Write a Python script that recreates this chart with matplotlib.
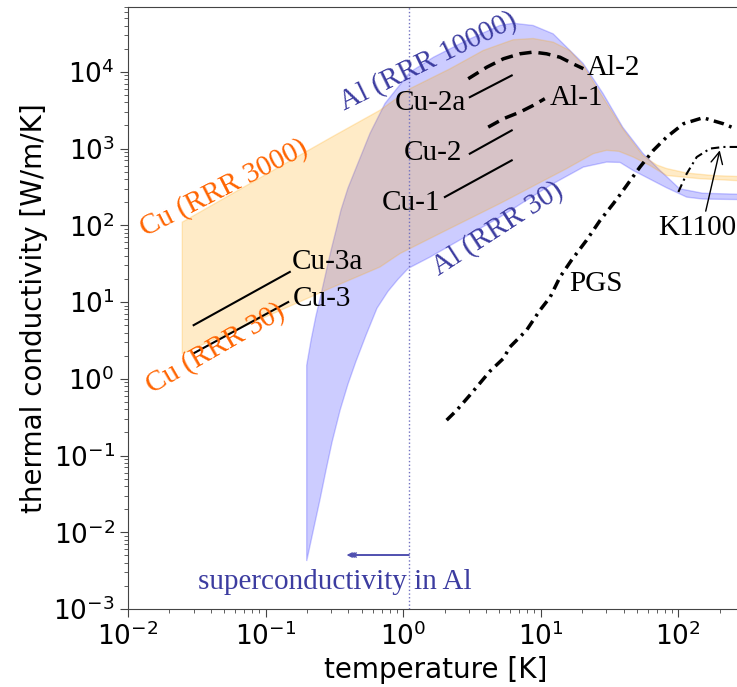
import matplotlib.pyplot as plt
import numpy as np

# Cu band: upper edge RRR 3000, lower edge RRR 30
cu_hi_T = [0.0248, 0.1, 0.3, 0.678, 1.12, 2.19, 3.82, 6.3, 8.8, 12.3, 16.2, 20.4,
           28, 40, 55, 62, 70, 82, 115, 180, 300]
cu_hi_k = [110, 457, 1400, 3160, 6030, 10960, 19000, 26200, 27200, 24400, 19000,
           12100, 4800, 1750, 820, 700, 610, 550, 480, 445, 430]
cu_lo_T = [0.0248, 0.1, 0.3, 0.678, 0.95, 2.0, 5.05, 10, 15.4, 24.1, 30.1, 37, 47,
           62, 82, 144, 300]
cu_lo_k = [2.13, 6.4, 15.3, 28.6, 42.9, 84, 192, 365, 547, 859, 949, 920, 776,
           603, 446, 405, 378]

# Al band: upper edge RRR 10000, lower edge RRR 30
al_hi_T = [0.199, 0.214, 0.232, 0.253, 0.275, 0.299, 0.325, 0.353, 0.397, 0.454,
           0.574, 0.738, 1.12, 1.66, 2.89, 5.05, 6.3, 8.8, 12.3, 20.3, 28.3, 39.5,
           55.2, 73.5, 102, 150, 300]
al_hi_k = [1.5, 3.18, 6.53, 12.6, 24.5, 47.2, 86, 158, 306, 557, 1578, 3880,
           9880, 15500, 25700, 40200, 43000, 40200, 31300, 12900, 5250, 1890,
           870, 520, 300, 262, 253]
al_lo_T = [0.199, 0.221, 0.248, 0.275, 0.304, 0.348, 0.397, 0.454, 0.537, 0.645,
           0.776, 0.917, 1.09, 1.57, 5.05, 11.7, 20.4, 30.1, 37.7, 46.8, 82, 115,
           150, 300]
al_lo_k = [0.00422, 0.0101, 0.0262, 0.0646, 0.149, 0.39, 0.851, 1.69, 3.70, 8.30,
           13.8, 19.8, 27.5, 38.6, 128, 332, 574, 667, 660, 520, 309, 233, 220,
           216]

# measured samples
al2_T = [2.97, 4.05, 5.35, 7.06, 8.83, 11.0, 13.8, 17.2, 20.4]
al2_k = [8130, 11500, 14800, 17200, 18100, 17200, 15500, 12700, 11000]
al1_T = [4.15, 5.35, 7.06, 8.83, 10.7]
al1_k = [1905, 2450, 2990, 3660, 4470]
cu3a_T, cu3a_k = [0.03, 0.15], [5.0, 24.7]
cu3_T, cu3_k = [0.03, 0.146], [2.15, 10.0]
cu2a_T, cu2a_k = [3.05, 6.15], [4680, 8970]
cu2_T, cu2_k = [3.05, 6.15], [858, 1726]
cu1_T, cu1_k = [2.01, 6.15], [234, 702]

pgs_T = [2.07, 2.45, 3.05, 4.28, 5.35, 5.97, 7.89, 9.86, 11.7, 13.8, 16.7, 21.5,
         26.9, 33.7, 37.7, 52.6, 65.8, 82.2, 109, 151, 212, 263]
pgs_k = [0.289, 0.389, 0.611, 1.26, 1.84, 2.60, 4.30, 7.82, 11.6, 21.2, 35.0,
         63.8, 115, 192, 251, 575, 948, 1413, 2109, 2523, 2109, 1800]
k1100_T = [100, 115, 136, 170, 212, 263, 300]
k1100_k = [272, 471, 776, 1000, 1050, 1050, 1050]

T_c = 1.1

ORANGE_TXT = '#ff6400'
BLUE_TXT = '#3c3ca0'
SERIF = 'Liberation Serif'
FS = 21

fig = plt.figure(figsize=(7.37, 6.87), dpi=100)
ax = fig.add_axes([128 / 737, 78 / 687, 616 / 737, 602 / 687])

ax.fill(np.r_[al_hi_T, al_lo_T[::-1]], np.r_[al_hi_k, al_lo_k[::-1]],
        facecolor='blue', edgecolor='blue', alpha=0.2, lw=1)
ax.fill(np.r_[cu_hi_T, cu_lo_T[::-1]], np.r_[cu_hi_k, cu_lo_k[::-1]],
        facecolor='#ffa500', edgecolor='#ffa500', alpha=0.22, lw=1)

ax.axvline(T_c, color='#7070c0', ls=':', lw=1)

for T, k in [(cu3a_T, cu3a_k), (cu3_T, cu3_k), (cu2a_T, cu2a_k),
             (cu2_T, cu2_k), (cu1_T, cu1_k)]:
    ax.plot(T, k, color='black', lw=1.5)
ax.plot(al2_T, al2_k, color='black', ls=(0, (3.5, 2)), lw=2.5)
ax.plot(al1_T, al1_k, color='black', ls=(0, (3.5, 2)), lw=2.5)
ax.plot(pgs_T, pgs_k, color='black', ls=(0, (3, 1.6, 0.8, 1.6)), lw=2.5)
ax.plot(k1100_T, k1100_k, color='black', ls=(0, (4, 2, 1, 2)), lw=1.5)

ax.set_xscale('log')
ax.set_yscale('log')
ax.set_xlim(1e-2, 300)
ax.set_ylim(1e-3, 7e4)
ax.set_yticks([10.0 ** e for e in range(-3, 5)])
ax.set_xticks([10.0 ** e for e in range(-2, 3)])
ax.tick_params(which='major', labelsize=19, length=6, color='#444444')
ax.tick_params(which='minor', length=3, color='#444444')
for s in ax.spines.values():
    s.set_color('#444444')
ax.set_xlabel('temperature [K]', fontsize=20)
ax.set_ylabel('thermal conductivity [W/m/K]', fontsize=20)

# band names
ax.text(0.05, 303, 'Cu (RRR 3000)', color=ORANGE_TXT, family=SERIF, fontsize=FS,
        rotation=27, ha='center', va='center')
ax.text(0.043, 2.5, 'Cu (RRR 30)', color=ORANGE_TXT, family=SERIF, fontsize=FS,
        rotation=30, ha='center', va='center')
ax.text(1.53, 13800, 'Al (RRR 10000)', color=BLUE_TXT, family=SERIF, fontsize=FS,
        rotation=26, ha='center', va='center')
ax.text(4.89, 91, 'Al (RRR 30)', color=BLUE_TXT, family=SERIF, fontsize=FS,
        rotation=33, ha='center', va='center')

# sample labels
lab = dict(family=SERIF, fontsize=FS, va='center')
ax.text(0.155, 33, 'Cu-3a', ha='left', **lab)
ax.text(0.158, 10.9, 'Cu-3', ha='left', **lab)
ax.text(2.89, 3880, 'Cu-2a', ha='right', **lab)
ax.text(2.66, 868, 'Cu-2', ha='right', **lab)
ax.text(1.875, 193, 'Cu-1', ha='right', **lab)
ax.text(21.5, 11060, 'Al-2', ha='left', **lab)
ax.text(11.7, 4510, 'Al-1', ha='left', **lab)
ax.text(16.0, 17.1, 'PGS', ha='left', **lab)
ax.annotate('K1100', xy=(200, 948), xytext=(71, 91.5), ha='left', va='center',
            family=SERIF, fontsize=FS,
            arrowprops=dict(arrowstyle='->', color='black', lw=1,
                            relpos=(0.6, 1.0), shrinkA=1, shrinkB=0))

# superconductivity arrow with a stacked head
for f in (1.0, 1.035, 1.07):
    ax.annotate('', xy=(0.388 * f, 0.00505), xytext=(T_c, 0.00505),
                arrowprops=dict(arrowstyle='->,head_length=0.3,head_width=0.15',
                                color='#5050b0', lw=1, shrinkA=0, shrinkB=0))
ax.text(0.0323, 0.00225, 'superconductivity in Al', color=BLUE_TXT,
        family=SERIF, fontsize=FS, ha='left', va='center')

fig.savefig('out.png', dpi=100)
